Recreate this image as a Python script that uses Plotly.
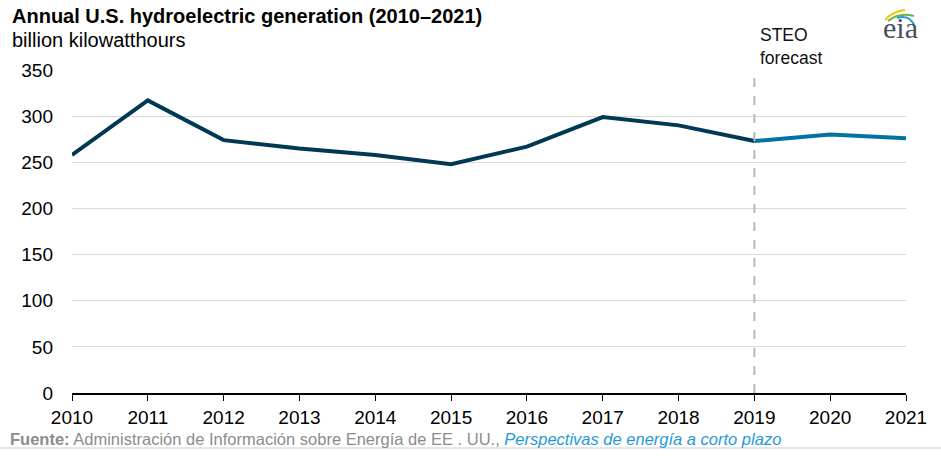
import plotly.graph_objects as go

years = [2010, 2011, 2012, 2013, 2014, 2015, 2016, 2017, 2018, 2019, 2020, 2021]
generation = [258, 317, 274, 265, 258, 248, 267, 299, 290, 273, 280, 276]
forecast_start = 2019
y_ticks = [0, 50, 100, 150, 200, 250, 300, 350]

hist_x = [x for x in years if x <= forecast_start]
hist_y = generation[:len(hist_x)]
fc_x = [x for x in years if x >= forecast_start]
fc_y = generation[len(hist_x) - 1:]

W, H = 941, 458
L, R, T, B = 72, 35, 70, 65
PW, PH = W - L - R, H - T - B


def px(x):
    return (x - L) / PW


def py(y):
    return (H - B - y) / PH


font = "Liberation Sans, Arial, sans-serif"
narrow = "Liberation Sans Narrow, Arial Narrow, Liberation Sans, sans-serif"
fig = go.Figure()
fig.add_trace(go.Scatter(x=hist_x, y=hist_y, mode="lines",
                         line=dict(color="#003953", width=4), hoverinfo="x+y"))
fig.add_trace(go.Scatter(x=fc_x, y=fc_y, mode="lines",
                         line=dict(color="#0073a3", width=4), hoverinfo="x+y"))

fig.add_shape(type="line", xref="x", yref="paper", x0=forecast_start, x1=forecast_start,
              y0=0, y1=1.0, line=dict(color="#b8b8b8", width=2, dash="dash"))

fig.add_annotation(xref="x", yref="paper", x=forecast_start, y=py(23), xanchor="left",
                   yanchor="top", xshift=4, align="left", showarrow=False,
                   text="STEO<br>forecast", font=dict(family=font, size=17.5, color="#111"))

fig.add_annotation(xref="paper", yref="paper", x=px(10), y=py(3), xanchor="left",
                   yanchor="top", showarrow=False,
                   text="<b>Annual U.S. hydroelectric generation (2010–2021)</b>",
                   font=dict(family=font, size=20, color="#000"))
fig.add_annotation(xref="paper", yref="paper", x=px(10), y=py(27), xanchor="left",
                   yanchor="top", showarrow=False,
                   text="billion kilowatthours",
                   font=dict(family=font, size=20, color="#000"))

fig.add_annotation(xref="paper", yref="paper", x=px(8), y=py(428), xanchor="left",
                   yanchor="top", showarrow=False,
                   text="<b>Fuente:</b> Administración de Información sobre Energía de EE . UU., "
                        "<i><span style='color:#1f9ad6'>Perspectivas de energía a corto plazo</span></i>",
                   font=dict(family=narrow, size=16.5, color="#8c8c8c"))

fig.add_shape(type="line", xref="paper", yref="paper", x0=px(0), x1=px(W),
              y0=py(448), y1=py(448), line=dict(color="#cccccc", width=1))

# eia logo
fig.add_annotation(xref="paper", yref="paper", x=px(900), y=py(27), xanchor="center",
                   yanchor="middle", showarrow=False, text="eia",
                   font=dict(family="Liberation Serif, serif", size=30, color="#47505e"))
arcs = [("#f2c500", [(885, 20), (893, 11), (905, 10)]),
        ("#6ab344", [(888, 21), (899, 12), (914, 16)]),
        ("#1f9ad6", [(897, 18), (910, 14), (915, 27)])]
for col, ((x0, y0), (cx, cy), (x1, y1)) in arcs:
    path = f"M {px(x0)} {py(y0)} Q {px(cx)} {py(cy)} {px(x1)} {py(y1)}"
    fig.add_shape(type="path", xref="paper", yref="paper", path=path,
                  line=dict(color=col, width=2))

fig.update_layout(
    width=W, height=H,
    margin=dict(l=L, r=R, t=T, b=B),
    paper_bgcolor="white", plot_bgcolor="white",
    showlegend=False,
    font=dict(family=font, size=19, color="#000"),
    xaxis=dict(range=[2010, 2021], tickmode="array", tickvals=years,
               ticktext=[str(y) for y in years], showgrid=False,
               showline=True, linecolor="#000", linewidth=1.5,
               ticks="outside", ticklen=6, tickcolor="#000", zeroline=False,
               tickfont=dict(size=19)),
    yaxis=dict(range=[0, 350], tickvals=y_ticks, showgrid=True, gridcolor="#d9d9d9",
               gridwidth=1, zeroline=False, showline=False, ticks="",
               tickfont=dict(size=19), ticklabelstandoff=18),
)

fig.write_html("out.html", config={"displayModeBar": False},
               post_script="document.body.style.margin='0px';")
